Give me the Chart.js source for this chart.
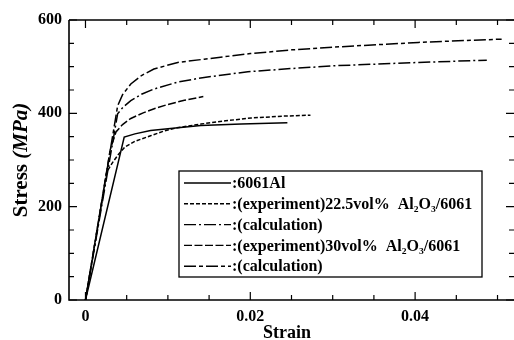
<!DOCTYPE html>
<html>
<head>
<meta charset="utf-8">
<script src="https://cdn.jsdelivr.net/npm/chart.js@4/dist/chart.umd.min.js"></script>
<style>
  html, body { margin: 0; padding: 0; background: #fff; }
  canvas { display: block; }
</style>
</head>
<body>
<canvas id="stressChart" width="514" height="340"></canvas>
<script>
// strain / stress (MPa)
const alStrain = [0, 0.0047, 0.0060, 0.0079, 0.0100, 0.0140, 0.0189, 0.0245];
const alStress = [0, 349, 356, 363, 367, 374, 377, 380];

const exp225Strain = [0, 0.0026, 0.0033, 0.0040, 0.0048, 0.0060, 0.0079, 0.0095, 0.0111, 0.0140, 0.0170, 0.0201, 0.0240, 0.0273];
const exp225Stress = [0, 275, 295, 312, 328, 340, 352, 362, 369, 377, 384, 390, 394, 396];

const calc225Strain = [0, 0.0039, 0.0046, 0.0055, 0.0068, 0.0083, 0.0112, 0.0144, 0.0197, 0.0250, 0.0303, 0.0404, 0.0487];
const calc225Stress = [0, 399, 414, 427, 441, 452, 467, 477, 489, 496, 502, 509, 514];

const exp30Strain = [0, 0.0030, 0.0037, 0.0045, 0.0055, 0.0070, 0.0085, 0.0100, 0.0120, 0.0143];
const exp30Stress = [0, 322, 360, 376, 389, 401, 411, 419, 428, 436];

const calc30Strain = [0, 0.0039, 0.0045, 0.0055, 0.0068, 0.0083, 0.0112, 0.0144, 0.0200, 0.0250, 0.0303, 0.0404, 0.0505];
const calc30Stress = [0, 416, 440, 463, 481, 495, 509, 516, 528, 536, 542, 552, 559];

const seriesLabels = [
  ':6061Al',
  ':(experiment)22.5vol%  Al₂O₃/6061',
  ':(calculation)',
  ':(experiment)30vol%  Al₂O₃/6061',
  ':(calculation)'
];

const xTicks = [0, 0.005, 0.01, 0.015, 0.02, 0.025, 0.03, 0.035, 0.04, 0.045, 0.05];
const xMajor = [0, 0.02, 0.04];
const yTicks = [0, 50, 100, 150, 200, 250, 300, 350, 400, 450, 500, 550, 600];
const yMajor = [0, 200, 400, 600];

const serif = '"Liberation Serif", "Times New Roman", serif';

const toPoints = (xs, ys) => xs.map((v, i) => ({ x: v, y: ys[i] }));

const series = [
  { strain: alStrain, stress: alStress, dash: [] },
  { strain: exp225Strain, stress: exp225Stress, dash: [4, 2] },
  { strain: calc225Strain, stress: calc225Stress, dash: [12, 3, 2, 3] },
  { strain: exp30Strain, stress: exp30Stress, dash: [8, 2.5] },
  { strain: calc30Strain, stress: calc30Stress, dash: [12, 3, 4, 3] }
];

// frame with inward ticks, axis titles and the boxed legend
const framePlugin = {
  id: 'frame',
  afterDraw(chart) {
    const { ctx, chartArea: a, scales: { x, y } } = chart;
    ctx.save();
    ctx.strokeStyle = '#000';
    ctx.lineWidth = 1.6;
    ctx.beginPath();
    ctx.moveTo(a.left, a.top);
    ctx.lineTo(a.left, a.bottom);
    ctx.lineTo(a.right, a.bottom);
    ctx.moveTo(a.left, a.top);
    ctx.lineTo(a.right, a.top);
    ctx.stroke();

    ctx.lineWidth = 1.2;
    ctx.beginPath();
    x.ticks.forEach((t) => {
      const px = x.getPixelForValue(t.value);
      const len = xMajor.includes(t.value) ? 8 : 5;
      ctx.moveTo(px, a.bottom);
      ctx.lineTo(px, a.bottom - len);
      ctx.moveTo(px, a.top);
      ctx.lineTo(px, a.top + len);
    });
    y.ticks.forEach((t) => {
      const py = y.getPixelForValue(t.value);
      const len = yMajor.includes(t.value) ? 8 : 5;
      ctx.moveTo(a.left, py);
      ctx.lineTo(a.left + len, py);
      ctx.moveTo(a.right, py);
      ctx.lineTo(a.right - len, py);
    });
    ctx.stroke();

    // axis titles
    ctx.fillStyle = '#000';
    ctx.textBaseline = 'alphabetic';
    ctx.textAlign = 'left';
    ctx.font = `bold 18px ${serif}`;
    ctx.fillText('Strain', 263, 338);

    ctx.translate(27, 160);
    ctx.rotate(-Math.PI / 2);
    const fBold = `bold 21px ${serif}`;
    const fItal = `italic bold 21px ${serif}`;
    ctx.font = fBold;
    const w1 = ctx.measureText('Stress ').width;
    ctx.font = fItal;
    const w2 = ctx.measureText('(MPa)').width;
    const sx = -(w1 + w2) / 2;
    ctx.font = fBold;
    ctx.fillText('Stress ', sx, 0);
    ctx.font = fItal;
    ctx.fillText('(MPa)', sx + w1, 0);
    ctx.restore();

    // legend
    ctx.save();
    const box = { left: 179, top: 171, right: 482, bottom: 277 };
    ctx.fillStyle = '#fff';
    ctx.fillRect(box.left, box.top, box.right - box.left, box.bottom - box.top);
    ctx.strokeStyle = '#000';
    ctx.lineWidth = 1.3;
    ctx.strokeRect(box.left, box.top, box.right - box.left, box.bottom - box.top);
    ctx.font = `bold 16px ${serif}`;
    ctx.textBaseline = 'middle';
    ctx.fillStyle = '#000';
    chart.data.datasets.forEach((ds, i) => {
      const ry = 183 + i * 20.8;
      ctx.setLineDash(ds.borderDash);
      ctx.lineWidth = 1.4;
      ctx.beginPath();
      ctx.moveTo(184, ry);
      ctx.lineTo(231, ry);
      ctx.stroke();
      ctx.setLineDash([]);
      ctx.fillText(ds.label, 232, ry + 1);
    });
    ctx.restore();
  }
};

new Chart(document.getElementById('stressChart'), {
  type: 'scatter',
  data: {
    datasets: series.map((s, i) => ({
      label: seriesLabels[i],
      data: toPoints(s.strain, s.stress),
      showLine: true,
      borderColor: '#000',
      borderWidth: 1.5,
      borderDash: s.dash,
      pointRadius: 0,
      tension: 0
    }))
  },
  options: {
    responsive: false,
    animation: false,
    layout: { padding: { top: 20, right: 0, left: 0, bottom: 0 } },
    plugins: { legend: { display: false }, tooltip: { enabled: false } },
    scales: {
      x: {
        type: 'linear',
        min: -0.002,
        max: 0.052,
        grid: { display: false, drawTicks: false },
        border: { display: false },
        afterBuildTicks: (s) => { s.ticks = xTicks.map((v) => ({ value: v })); },
        afterFit: (s) => { s.height = 40; },
        ticks: {
          padding: 7,
          color: '#000',
          autoSkip: false,
          maxRotation: 0,
          font: { family: serif, size: 16, weight: 'bold' },
          callback: (v) => (xMajor.includes(v) ? String(v) : '')
        }
      },
      y: {
        min: 0,
        max: 600,
        grid: { display: false, drawTicks: false },
        border: { display: false },
        afterBuildTicks: (s) => { s.ticks = yTicks.map((v) => ({ value: v })); },
        afterFit: (s) => { s.width = 69; },
        ticks: {
          padding: 7,
          color: '#000',
          autoSkip: false,
          font: { family: serif, size: 16, weight: 'bold' },
          callback: (v) => (yMajor.includes(v) ? String(v) : '')
        }
      }
    }
  },
  plugins: [framePlugin]
});
</script>
</body>
</html>
